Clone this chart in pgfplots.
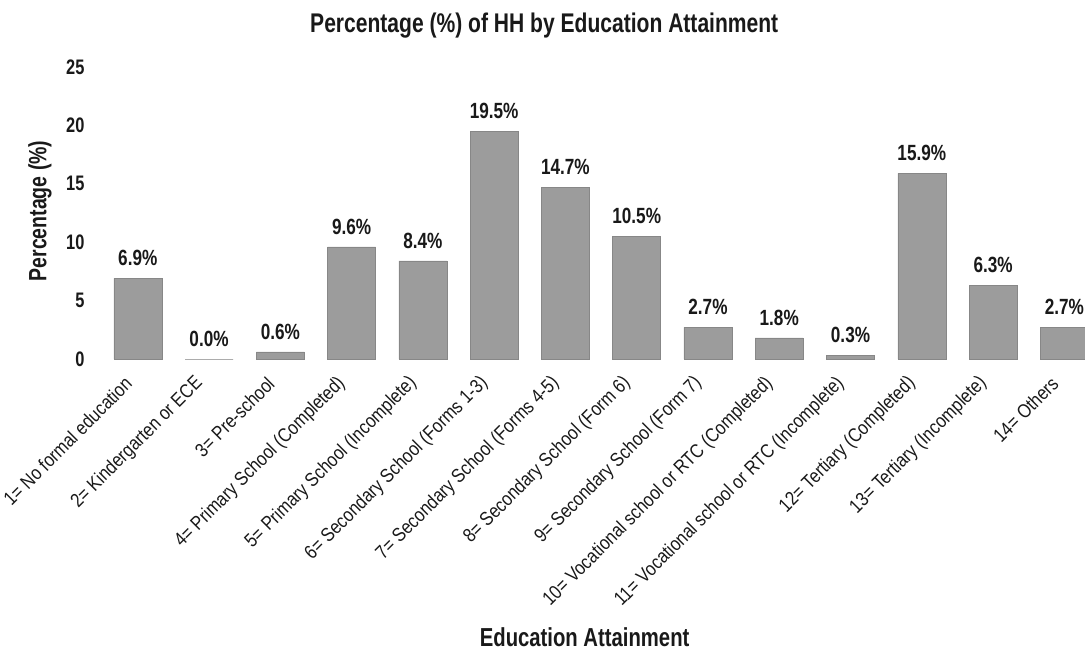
\documentclass[border=0pt]{standalone}
\usepackage{pgfplots}
\pgfplotsset{compat=1.18}
\usepackage{fontspec}
\setmainfont{Liberation Sans}[FakeStretch=0.85, BoldFeatures={FakeStretch=0.78}]
\definecolor{barfill}{RGB}{156,156,156}
\definecolor{barline}{RGB}{135,135,135}
\definecolor{txt}{RGB}{25,25,25}
\begin{document}
\begin{tikzpicture}
\begin{axis}[
  scale only axis,
  width=985pt, height=292pt,
  xmin=-0.53, xmax=13.29,
  ymin=0, ymax=25,
  axis line style={draw=none},
  major tick length=0pt,
  ytick={0,5,10,15,20,25},
  xtick={0,...,13},
  xticklabels={
    {1= No formal education},
    {2= Kindergarten or ECE},
    {3= Pre-school},
    {4= Primary School (Completed)},
    {5= Primary School (Incomplete)},
    {6= Secondary School (Forms 1-3)},
    {7= Secondary School (Forms 4-5)},
    {8= Secondary School (Form 6)},
    {9= Secondary School (Form 7)},
    {10= Vocational school or RTC (Completed)},
    {11= Vocational school or RTC (Incomplete)},
    {12= Tertiary (Completed)},
    {13= Tertiary (Incomplete)},
    {14= Others}},
  /pgf/number format/assume math mode=true,
  xticklabel style={font=\fontsize{19.5}{22}\selectfont, text=txt, xshift=-7pt, yshift=-19pt, rotate=45, anchor=east},
  yticklabel style={font=\bfseries\fontsize{21}{24}\selectfont, text=txt, xshift=-12pt},
  ylabel={Percentage (\%)},
  ylabel style={font=\bfseries\fontsize{25}{28}\selectfont, text=txt, at={(axis description cs:-0.061,0.507)}, anchor=center},
  xlabel={Education Attainment},
  xlabel style={font=\bfseries\fontsize{26}{30}\selectfont, text=txt, at={(axis description cs:0.492,-0.952)}, anchor=center},
  title={Percentage (\%) of HH by Education Attainment},
  title style={font=\bfseries\fontsize{27}{32}\selectfont, text=txt, at={(axis description cs:0.451,1.12)}, anchor=center},
  ybar, bar width=48pt,
  nodes near coords={\pgfmathprintnumber[fixed,fixed zerofill,precision=1]{\pgfplotspointmeta}\%},
  nodes near coords style={font=\bfseries\fontsize{22}{24}\selectfont, text=txt, anchor=south, yshift=9pt},
  clip=false,
]
\addplot[fill=barfill, draw=barline] coordinates {
  (0,6.9) (1,0.0) (2,0.6) (3,9.6) (4,8.4) (5,19.5) (6,14.7)
  (7,10.5) (8,2.7) (9,1.8) (10,0.3) (11,15.9) (12,6.3) (13,2.7)
};
\end{axis}
\pgfresetboundingbox
\path (-100pt,-294pt) rectangle (985pt,359pt);
\end{tikzpicture}
\end{document}
